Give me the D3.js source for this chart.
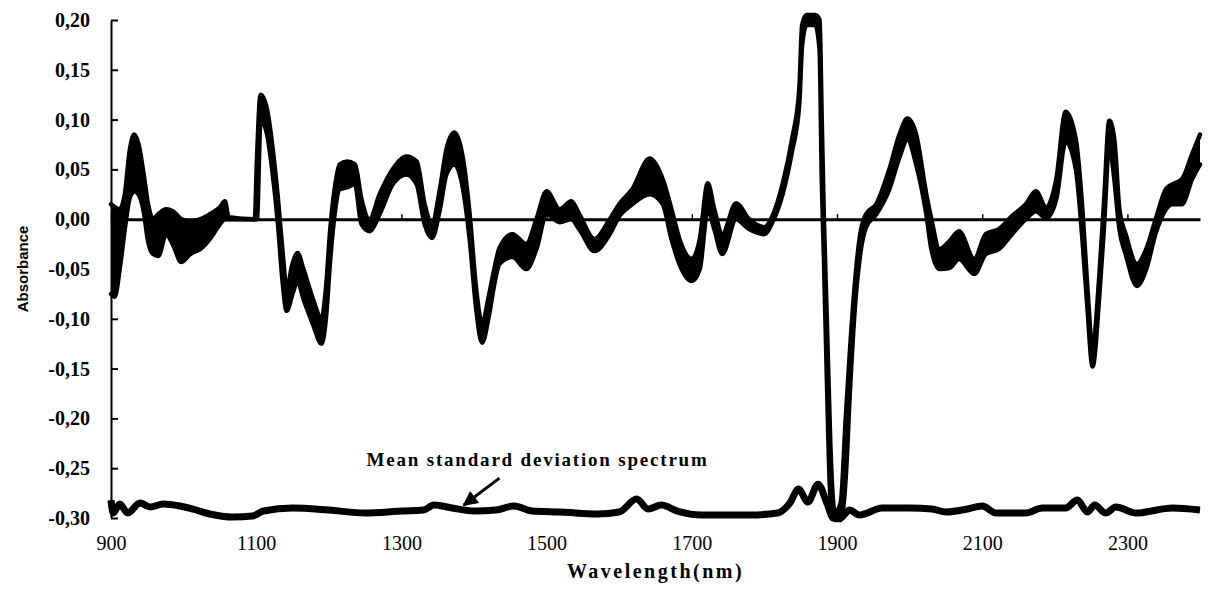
<!DOCTYPE html>
<html>
<head>
<meta charset="utf-8">
<script src="https://cdn.jsdelivr.net/npm/d3@7"></script>
<style>
  body { margin: 0; background: #fff; }
</style>
</head>
<body>
<div id="chart"></div>
<script>
"use strict";
// spectra band: upper / lower envelope of all the sample curves
const wavelengths = [900, 905, 912, 919, 926, 932, 938, 945, 951, 958, 965, 976, 985, 997, 1009, 1023, 1036, 1050, 1057, 1062,
  1098, 1101, 1106, 1115, 1122, 1130, 1136, 1142, 1150, 1157, 1165, 1178, 1190, 1196, 1202, 1208, 1215, 1225, 1236, 1245,
  1256, 1270, 1288, 1307, 1321, 1332, 1342, 1353, 1362, 1373, 1385, 1394, 1403, 1411, 1421, 1428, 1435, 1453, 1472, 1486,
  1500, 1518, 1534, 1545, 1566, 1587, 1600, 1618, 1642, 1660, 1672, 1683, 1700, 1711, 1722, 1731, 1742, 1761, 1779, 1800,
  1811, 1825, 1838, 1848, 1852, 1858, 1870, 1876, 1879, 1882, 1886, 1891, 1897, 1905, 1912, 1918, 1924, 1932, 1940, 1954,
  1972, 1986, 1997, 2009, 2023, 2030, 2041, 2055, 2068, 2089, 2105, 2123, 2141, 2160, 2174, 2188, 2202, 2215, 2229, 2238,
  2245, 2252, 2261, 2268, 2275, 2282, 2289, 2298, 2313, 2326, 2339, 2353, 2362, 2375, 2389, 2400];
const upperEnvelope = [0.015, 0.012, 0.010, 0.025, 0.070, 0.085, 0.075, 0.045, 0.015, 0.000, 0.005, 0.010, 0.008, 0.000, -0.002, 0.000, 0.005, 0.012, 0.018, 0.002,
  0.000, 0.060, 0.125, 0.110, 0.075, 0.020, -0.030, -0.070, -0.045, -0.034, -0.050, -0.080, -0.100, -0.070, -0.010, 0.030, 0.055, 0.058, 0.055, 0.020,
  0.000, 0.025, 0.050, 0.063, 0.058, 0.015, -0.005, 0.030, 0.070, 0.087, 0.060, 0.005, -0.070, -0.105, -0.075, -0.050, -0.029, -0.015, -0.025, 0.000,
  0.028, 0.010, 0.018, 0.005, -0.020, 0.000, 0.015, 0.030, 0.061, 0.040, 0.010, -0.020, -0.040, -0.020, 0.036, 0.010, -0.015, 0.016, 0.000, -0.008,
  0.003, 0.035, 0.080, 0.130, 0.195, 0.205, 0.205, 0.200, 0.100, 0.000, -0.100, -0.230, -0.295, -0.285, -0.200, -0.130, -0.070, -0.015, 0.005, 0.015,
  0.050, 0.085, 0.101, 0.085, 0.025, 0.000, -0.030, -0.022, -0.012, -0.040, -0.015, -0.010, 0.003, 0.015, 0.028, 0.012, 0.040, 0.108, 0.080, 0.010,
  -0.070, -0.130, -0.060, 0.020, 0.099, 0.080, 0.010, -0.016, -0.045, -0.030, 0.000, 0.030, 0.035, 0.040, 0.065, 0.085];
const lowerEnvelope = [-0.075, -0.078, -0.050, -0.010, 0.022, 0.028, 0.025, 0.008, -0.022, -0.035, -0.037, -0.015, -0.025, -0.043, -0.035, -0.030, -0.020, -0.005, 0.000, 0.000,
  0.000, 0.000, 0.100, 0.085, 0.050, -0.005, -0.060, -0.092, -0.075, -0.062, -0.080, -0.105, -0.125, -0.100, -0.040, 0.005, 0.030, 0.032, 0.035, -0.005,
  -0.012, 0.005, 0.035, 0.045, 0.035, -0.005, -0.019, 0.010, 0.045, 0.055, 0.030, -0.020, -0.090, -0.124, -0.095, -0.065, -0.045, -0.038, -0.050, -0.030,
  0.005, -0.003, 0.000, -0.010, -0.032, -0.015, 0.003, 0.015, 0.025, 0.015, -0.020, -0.045, -0.062, -0.050, 0.010, -0.010, -0.035, 0.000, -0.010, -0.015,
  -0.003, 0.025, 0.068, 0.115, 0.175, 0.195, 0.195, 0.170, 0.040, -0.040, -0.160, -0.280, -0.302, -0.302, -0.260, -0.170, -0.095, -0.035, -0.008, 0.005,
  0.030, 0.062, 0.080, 0.055, 0.005, -0.030, -0.050, -0.049, -0.040, -0.055, -0.035, -0.030, -0.015, 0.000, 0.008, 0.001, 0.020, 0.078, 0.050, -0.020,
  -0.090, -0.148, -0.080, -0.005, 0.075, 0.040, -0.010, -0.036, -0.067, -0.050, -0.014, 0.010, 0.015, 0.015, 0.040, 0.055];

// mean standard deviation spectrum
const stdWavelengths = [900, 903, 912, 923, 940, 954, 972, 995, 1013, 1036, 1068, 1095, 1110, 1150, 1200, 1250, 1300, 1330, 1345, 1370,
  1400, 1430, 1455, 1480, 1520, 1570, 1600, 1624, 1640, 1658, 1680, 1713, 1780, 1818, 1835, 1847, 1860, 1874, 1886, 1895,
  1905, 1917, 1931, 1962, 2000, 2031, 2050, 2080, 2100, 2119, 2160, 2183, 2215, 2231, 2245, 2255, 2270, 2284, 2312, 2362, 2400];
const stdValues = [-0.282, -0.295, -0.286, -0.295, -0.285, -0.289, -0.286, -0.288, -0.291, -0.296, -0.299, -0.298, -0.293, -0.290, -0.292, -0.295, -0.293, -0.292, -0.287, -0.290,
  -0.293, -0.292, -0.288, -0.293, -0.294, -0.296, -0.294, -0.281, -0.291, -0.287, -0.293, -0.297, -0.297, -0.295, -0.285, -0.271, -0.284, -0.266, -0.285, -0.300,
  -0.300, -0.292, -0.297, -0.290, -0.290, -0.291, -0.294, -0.291, -0.288, -0.295, -0.295, -0.290, -0.290, -0.282, -0.294, -0.287, -0.295, -0.289, -0.295, -0.290, -0.292];

const xTicks = [900, 1100, 1300, 1500, 1700, 1900, 2100, 2300];
const yTicks = [0.20, 0.15, 0.10, 0.05, 0.00, -0.05, -0.10, -0.15, -0.20, -0.25, -0.30];

// annotation: label and arrow, in data units
const noteText = "Mean standard deviation spectrum";
const noteAt = [1252, -0.248];
const arrowFrom = [1435, -0.260];
const arrowTo = [1386, -0.287];

const width = 1210;
const height = 595;
const marginLeft = 111;
const marginRight = 10;
const marginTop = 20;
const marginBottom = 77;

const serif = "'Liberation Serif', 'Times New Roman', serif";
const sans = "'Liberation Sans', Arial, sans-serif";

const x = d3.scaleLinear()
    .domain([900, 2400])
    .range([marginLeft, width - marginRight]);

const y = d3.scaleLinear()
    .domain([-0.30, 0.20])
    .range([height - marginBottom, marginTop]);

const fmt = d3.formatLocale({decimal: ",", thousands: ".", grouping: [3], currency: ["", ""], minus: "-"}).format(".2f");

const svg = d3.select("#chart").append("svg")
    .attr("width", width)
    .attr("height", height)
    .attr("viewBox", [0, 0, width, height]);

// Y axis with inward ticks
svg.append("g")
    .attr("transform", `translate(${marginLeft},0)`)
    .call(d3.axisLeft(y).tickValues(yTicks).tickFormat(fmt).tickSizeInner(-7).tickSizeOuter(0).tickPadding(21))
    .call(g => g.select(".domain").attr("stroke", "#000").attr("stroke-width", 2))
    .call(g => g.selectAll(".tick line").attr("stroke", "#000").attr("stroke-width", 2))
    .call(g => g.selectAll(".tick text")
        .attr("fill", "#000")
        .style("font-family", serif)
        .style("font-weight", "bold")
        .style("font-size", "20px"));

// zero line with small upward ticks
svg.append("g")
    .attr("transform", `translate(0,${y(0)})`)
    .call(d3.axisBottom(x).tickValues(xTicks).tickSizeInner(-5).tickSizeOuter(0).tickFormat(""))
    .call(g => g.select(".domain").attr("stroke", "#000").attr("stroke-width", 3))
    .call(g => g.selectAll(".tick line").attr("stroke", "#000").attr("stroke-width", 1.5));

// x tick labels at the bottom
svg.append("g")
    .attr("transform", `translate(0,${height - marginBottom})`)
    .call(d3.axisBottom(x).tickValues(xTicks).tickSize(0).tickPadding(18).tickFormat(d3.format("d")))
    .call(g => g.select(".domain").remove())
    .call(g => g.selectAll(".tick text")
        .attr("fill", "#000")
        .style("font-family", serif)
        .style("font-size", "20px"));

const rows = wavelengths.map((w, i) => ({w: w, hi: upperEnvelope[i], lo: lowerEnvelope[i]}));

const area = d3.area()
    .x(d => x(d.w))
    .y0(d => y(d.lo))
    .y1(d => y(d.hi))
    .curve(d3.curveMonotoneX);

svg.append("path")
    .datum(rows)
    .attr("fill", "#000")
    .attr("d", area);

const edge = key => d3.line()
    .x(d => x(d.w))
    .y(d => y(d[key]))
    .curve(d3.curveMonotoneX);

svg.append("g")
    .attr("fill", "none")
    .attr("stroke", "#000")
    .attr("stroke-width", 4.5)
    .attr("stroke-linejoin", "round")
    .attr("stroke-linecap", "round")
  .selectAll("path")
  .data(["hi", "lo"])
  .join("path")
    .attr("d", k => edge(k)(rows));

// standard deviation spectrum
const stdRows = stdWavelengths.map((w, i) => [w, stdValues[i]]);
svg.append("path")
    .datum(stdRows)
    .attr("fill", "none")
    .attr("stroke", "#000")
    .attr("stroke-width", 7)
    .attr("stroke-linejoin", "round")
    .attr("d", d3.line().x(d => x(d[0])).y(d => y(d[1])).curve(d3.curveMonotoneX));

// annotation
svg.append("text")
    .attr("x", x(noteAt[0]))
    .attr("y", y(noteAt[1]))
    .style("font-family", serif)
    .style("font-weight", "bold")
    .style("font-size", "19px")
    .style("letter-spacing", "1.8px")
    .text(noteText);

svg.append("defs").append("marker")
    .attr("id", "head")
    .attr("viewBox", "0 0 10 10")
    .attr("refX", 9)
    .attr("refY", 5)
    .attr("markerWidth", 6)
    .attr("markerHeight", 5)
    .attr("markerUnits", "strokeWidth")
    .attr("orient", "auto")
  .append("path")
    .attr("d", "M0,0L10,5L0,10Z")
    .attr("fill", "#000");

svg.append("line")
    .attr("x1", x(arrowFrom[0]))
    .attr("y1", y(arrowFrom[1]))
    .attr("x2", x(arrowTo[0]))
    .attr("y2", y(arrowTo[1]))
    .attr("stroke", "#000")
    .attr("stroke-width", 3)
    .attr("marker-end", "url(#head)");

// axis titles
svg.append("text")
    .attr("x", (marginLeft + width - marginRight) / 2)
    .attr("y", 578)
    .attr("text-anchor", "middle")
    .style("font-family", serif)
    .style("font-weight", "bold")
    .style("font-size", "20px")
    .style("letter-spacing", "2.5px")
    .text("Wavelength(nm)");

svg.append("text")
    .attr("transform", `translate(28,${(marginTop + height - marginBottom) / 2}) rotate(-90)`)
    .attr("text-anchor", "middle")
    .style("font-family", sans)
    .style("font-weight", "bold")
    .style("font-size", "15px")
    .text("Absorbance");
</script>
</body>
</html>
